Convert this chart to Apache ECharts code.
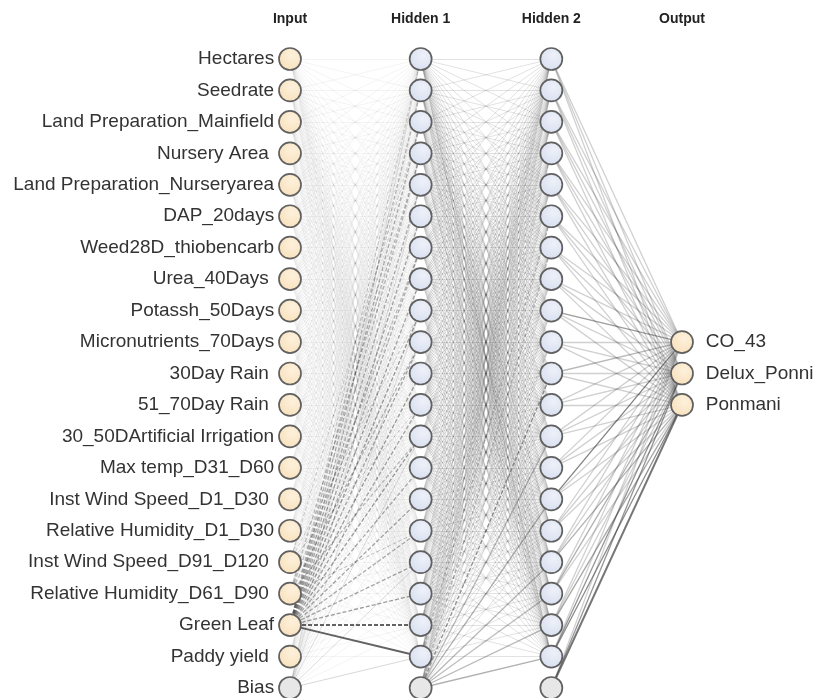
<!DOCTYPE html>
<html>
<head>
<meta charset="utf-8">
<script src="https://cdn.jsdelivr.net/npm/echarts@6/dist/echarts.min.js"></script>
<style>
  html, body { margin: 0; padding: 0; background: #fff; }
  #chart { width: 814px; height: 698px; }
</style>
</head>
<body>
<div id="chart"></div>
<script>
// layer titles and node labels
const layerTitles = ['Input', 'Hidden 1', 'Hidden 2', 'Output'];
const inputLabels = [
  'Hectares', 'Seedrate', 'Land Preparation_Mainfield', 'Nursery Area ',
  'Land Preparation_Nurseryarea', 'DAP_20days', 'Weed28D_thiobencarb', 'Urea_40Days ',
  'Potassh_50Days', 'Micronutrients_70Days', '30Day Rain ', '51_70Day Rain ',
  '30_50DArtificial Irrigation', 'Max temp_D31_D60', 'Inst Wind Speed_D1_D30 ',
  'Relative Humidity_D1_D30', 'Inst Wind Speed_D91_D120 ', 'Relative Humidity_D61_D90 ',
  'Green Leaf', 'Paddy yield ', 'Bias'
];
const hidden1Count = 20;   // plus one bias node
const hidden2Count = 20;   // plus one bias node
const outputLabels = ['CO_43', 'Delux_Ponni', 'Ponmani'];
const outputRows = [9, 10, 11];

// typical weight strength of the faint connections between each pair of layers
const baseWeight = [0.06, 0.15, 0.24];

// the connections that stand out: [from, to, weight] (negative = dashed)
const inToH1 = [
  [18, 0, -0.28], [18, 1, -0.35], [18, 2, -0.4], [18, 3, -0.35], [18, 4, -0.4],
  [18, 5, -0.45], [18, 6, -0.4], [18, 7, -0.45], [18, 8, -0.5], [18, 9, -0.45],
  [18, 10, -0.5], [18, 11, -0.45], [18, 12, -0.5], [18, 13, -0.42], [18, 14, -0.45],
  [18, 15, -0.42], [18, 16, -0.45], [18, 17, -0.5], [18, 18, -0.8], [18, 19, 0.8],
  [17, 3, -0.32], [17, 6, -0.32], [17, 9, -0.36], [17, 12, -0.32], [17, 15, -0.3],
  [16, 2, -0.25], [16, 8, -0.25], [16, 11, -0.25],
  [20, 0, 0.16], [20, 4, 0.16], [20, 8, 0.16], [20, 12, 0.18], [20, 16, 0.18], [20, 19, 0.2]
];
const h1ToH2 = [
  [20, 10, -0.55], [20, 14, 0.42], [20, 12, 0.36], [20, 16, 0.36], [20, 17, 0.32],
  [20, 18, 0.36], [20, 19, 0.4], [20, 6, -0.32], [19, 5, -0.32], [18, 3, -0.28],
  [19, 9, -0.28], [1, 15, 0.26], [2, 17, 0.26], [3, 19, 0.26], [0, 19, 0.25]
];
const h2ToOut = [
  [14, 0, 0.65], [8, 0, 0.5], [10, 0, 0.36], [19, 1, 0.55], [19, 2, 0.6],
  [20, 2, 0.7], [20, 1, 0.55], [18, 2, 0.45], [17, 1, 0.4], [16, 2, 0.4]
];

const nodeStroke = '#606060';
const fillInput = { type: 'radial', x: 0.6, y: 0.35, r: 0.7,
  colorStops: [{ offset: 0, color: '#fdf1dc' }, { offset: 1, color: '#f8e0bb' }] };
const fillHidden = { type: 'radial', x: 0.6, y: 0.35, r: 0.7,
  colorStops: [{ offset: 0, color: '#eef1f9' }, { offset: 1, color: '#d7deef' }] };
const fillBias = '#e7e7e7';

const nodes = [];
const layerStart = [];

function addNode(id, x, y, color, label) {
  nodes.push({
    id: id,
    name: id,
    value: [x, y],
    itemStyle: { color: color },
    label: label
  });
  return nodes.length - 1;
}

layerStart[0] = nodes.length;
inputLabels.forEach((name, i) => {
  addNode('in' + i, 0, i, i === inputLabels.length - 1 ? fillBias : fillInput,
    { show: true, position: 'left', distance: 4, formatter: name });
});
layerStart[1] = nodes.length;
for (let i = 0; i <= hidden1Count; i++) {
  addNode('h1_' + i, 1, i, i === hidden1Count ? fillBias : fillHidden, { show: false });
}
layerStart[2] = nodes.length;
for (let i = 0; i <= hidden2Count; i++) {
  addNode('h2_' + i, 2, i, i === hidden2Count ? fillBias : fillHidden, { show: false });
}
layerStart[3] = nodes.length;
outputLabels.forEach((name, i) => {
  addNode('out' + i, 3, outputRows[i], fillInput,
    { show: true, position: 'right', distance: 12, formatter: name });
});

// fully connected layers; bias nodes only send
const counts = [inputLabels.length, hidden1Count + 1, hidden2Count + 1, outputLabels.length];
const targetsCount = [hidden1Count, hidden2Count, outputLabels.length];
const strong = [inToH1, h1ToH2, h2ToOut];
const links = [];
for (let l = 0; l < 3; l++) {
  const w = {};
  strong[l].forEach(([a, b, v]) => { w[a + '_' + b] = v; });
  for (let a = 0; a < counts[l]; a++) {
    for (let b = 0; b < targetsCount[l]; b++) {
      const v = w[a + '_' + b] !== undefined ? w[a + '_' + b] : baseWeight[l];
      links.push({ source: layerStart[l] + a, target: layerStart[l + 1] + b, weight: v, layer: l });
    }
  }
}
links.sort((p, q) => Math.abs(p.weight) - Math.abs(q.weight));
links.forEach(lk => {
  const a = Math.abs(lk.weight);
  lk.lineStyle = {
    color: 'rgba(60,60,60,' + a.toFixed(2) + ')',
    width: a > 0.65 ? 2 : (a > 0.3 || lk.layer === 2 ? 1.3 : 1),
    type: lk.weight < 0 ? [4, 2] : 'solid',
    opacity: 1
  };
  delete lk.layer;
});

const chart = echarts.init(document.getElementById('chart'));
chart.setOption({
  backgroundColor: '#fff',
  animation: false,
  grid: { left: 290, right: 132, top: 59, bottom: 10 },
  xAxis: {
    type: 'value', position: 'top', min: 0, max: 3, interval: 1,
    axisLine: { show: false }, axisTick: { show: false }, splitLine: { show: false },
    axisLabel: {
      margin: 33,
      fontFamily: 'Liberation Sans, Arial, sans-serif',
      fontWeight: 'bold', fontSize: 14, color: '#222',
      formatter: v => layerTitles[v]
    }
  },
  yAxis: {
    type: 'value', inverse: true, min: 0, max: 20, show: false
  },
  series: [{
    type: 'graph',
    coordinateSystem: 'cartesian2d',
    layout: 'none',
    silent: true,
    symbol: 'circle',
    symbolSize: 22,
    itemStyle: { borderColor: nodeStroke, borderWidth: 1.7 },
    label: {
      fontFamily: 'Liberation Sans, Arial, sans-serif',
      fontSize: 19, color: '#333'
    },
    emphasis: { disabled: true },
    data: nodes,
    links: links
  }]
});
</script>
</body>
</html>
